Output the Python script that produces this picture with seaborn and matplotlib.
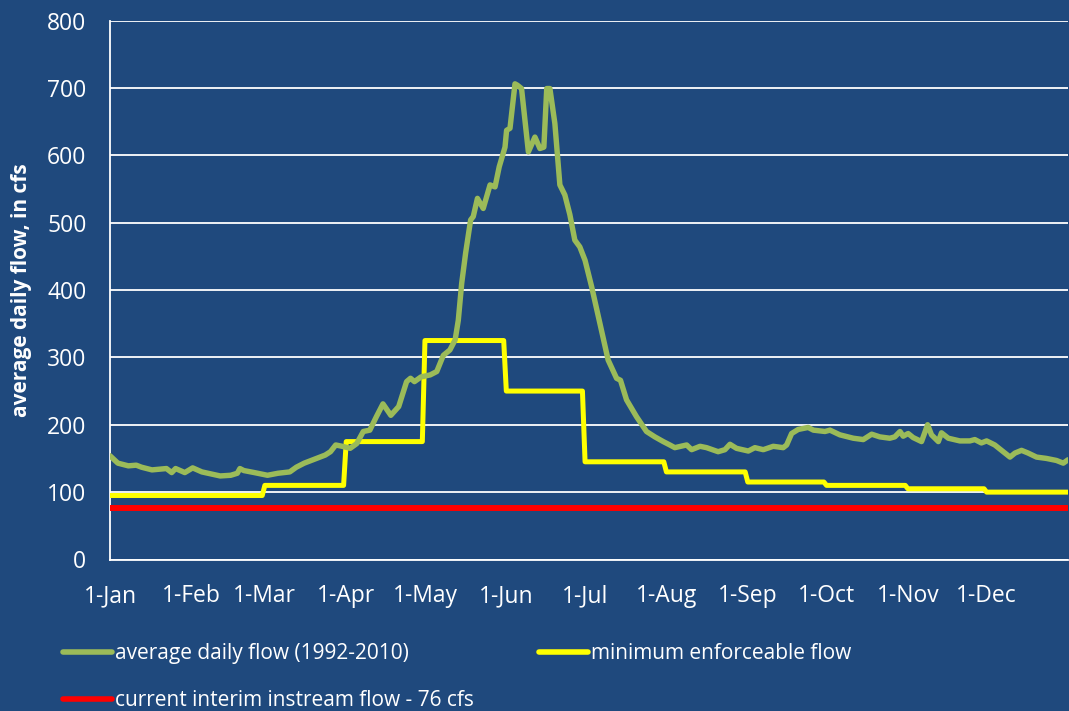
import numpy as np
import pandas as pd
import matplotlib
matplotlib.use("Agg")
import matplotlib.pyplot as plt
import seaborn as sns
from matplotlib.lines import Line2D

# ---- data (day of year starting at 0 = 1-Jan) ----
flow_days = [0, 3, 7, 10, 12, 16, 21.5, 23.5, 25, 28.5, 31.5, 35, 38.5, 42, 46, 48.5, 49.5, 51,
             55, 60, 64, 68.5, 71, 74, 78, 82, 84, 86, 88.5, 91.5, 94, 96.5, 99, 101.5, 104,
             107, 110, 113, 114.5, 116, 118.5, 122, 124.5, 127, 129.5, 131.5, 132.7, 134, 135.5,
             137.4, 138.4, 140, 142.2, 144.8, 146.7, 148.3, 150.5, 151.1, 152.4, 154.3, 155.2,
             156.8, 159.4, 161.9, 163.8, 165.3, 166.4, 167.6, 169.5, 171.4, 173.3, 175.2, 177.1,
             179, 181, 183.5, 186.7, 189.8, 193, 194.5, 196.8, 200.6, 204.4, 207.6, 210.8,
             213.3, 215.2, 219.7, 221.6, 224.8, 227.3, 231.7, 234.3, 236.2, 238.7, 243.2, 245.7,
             248.9, 252.7, 256.5, 257.8, 259.7, 262.2, 266, 268, 272.4, 274.3, 278.1, 283.2,
             287, 290.2, 293.3, 297.1, 299, 301, 302.2, 304.1, 306, 309.2, 311.5, 313, 315.6,
             316.8, 319.4, 323.8, 327.6, 329.5, 332, 334, 337.1, 339.7, 342.9, 344.8, 347.3,
             349.8, 353, 356.8, 360.6, 363.2, 365]
flow_values = [154, 143, 139, 140, 137, 133, 135, 129, 135, 129, 136, 130, 127, 124, 125, 128, 135, 132,
               129, 125, 128, 130, 137, 143, 149, 155, 160, 170, 168, 165, 172, 190, 192, 212, 231,
               214, 227, 264, 269, 264, 271, 274, 279, 303, 311, 326, 355, 410, 455,
               504, 509, 536, 521, 556, 553, 583, 612, 637, 640, 706, 704,
               699, 605, 627, 610, 612, 699, 699, 647, 556, 541, 512, 474,
               464, 444, 405, 350, 296, 269, 266, 237, 212, 190, 182, 175,
               170, 166, 170, 163, 168, 166, 160, 163, 171, 165, 161, 166,
               163, 168, 166, 170, 187, 193, 196, 192, 190, 192, 185, 180,
               178, 186, 182, 180, 182, 190, 183, 187, 181, 175, 200, 185, 175,
               188, 180, 176, 176, 178, 173, 176, 170, 162, 152, 158, 162,
               158, 152, 150, 147, 143, 148]

min_start_days = [0, 59, 90, 120, 151, 181, 212, 243, 273, 304, 334, 365]
min_values = [95, 110, 175, 325, 250, 145, 130, 115, 110, 105, 100]

interim_days = [0, 365]
interim_values = [76, 76]

month_ticks = [0, 31, 59, 90, 120, 151, 181, 212, 243, 273, 304, 334]
month_labels = ["1-Jan", "1-Feb", "1-Mar", "1-Apr", "1-May", "1-Jun", "1-Jul",
                "1-Aug", "1-Sep", "1-Oct", "1-Nov", "1-Dec"]
y_ticks = [0, 100, 200, 300, 400, 500, 600, 700, 800]

labels = ["average daily flow (1992-2010)", "minimum enforceable flow",
          "current interim instream flow - 76 cfs"]

# ---- build frames ----
df_flow = pd.DataFrame({"day": flow_days, "cfs": flow_values})
min_days = np.arange(0, 366)
lengths = np.diff(min_start_days)
min_daily = np.repeat(min_values, lengths)
min_daily = np.append(min_daily, min_values[-1])
df_min = pd.DataFrame({"day": min_days, "cfs": min_daily})
df_int = pd.DataFrame({"day": interim_days, "cfs": interim_values})

BG = "#1F497D"
GREEN = "#9BBB59"
YELLOW = "#FFFF00"
RED = "#FF0000"

sns.set_style("white", {"axes.facecolor": BG, "figure.facecolor": BG})
plt.rcParams["font.family"] = ["Open Sans", "DejaVu Sans"]

fig = plt.figure(figsize=(10.69, 7.11), dpi=100)
ax = fig.add_axes([110 / 1069, (711 - 559.5) / 711, 958 / 1069, 539 / 711])
ax.set_facecolor(BG)

sns.lineplot(data=df_int, x="day", y="cfs", ax=ax, color=RED, linewidth=4.3,
             estimator=None, zorder=3, solid_capstyle="butt")
sns.lineplot(data=df_min, x="day", y="cfs", ax=ax, color=YELLOW, linewidth=3.6,
             estimator=None, zorder=4)
sns.lineplot(data=df_flow, x="day", y="cfs", ax=ax, color=GREEN, linewidth=3.9,
             estimator=None, zorder=5)

ax.set_xlim(0, 365)
ax.set_ylim(0, 800)
ax.set_yticks(y_ticks)
ax.set_xticks(month_ticks)
ax.set_xticklabels(month_labels)
ax.yaxis.grid(True, color="white", linewidth=1.3)
ax.set_axisbelow(True)
for s in ["top", "right"]:
    ax.spines[s].set_visible(False)
for s in ["left", "bottom"]:
    ax.spines[s].set_color("white")
    ax.spines[s].set_linewidth(1.3)
ax.tick_params(axis="both", colors="white", labelcolor="white", labelsize=16.5,
               length=6, width=1.3, direction="out")
ax.tick_params(axis="x", pad=12)
ax.tick_params(axis="y", pad=11)
ax.set_xlabel("")
ax.set_ylabel("average daily flow, in cfs", color="white", fontsize=15,
              fontweight="bold")
ax.yaxis.set_label_coords(-(110 - 32) / 958, 0.5)

handles = [Line2D([], [], color=GREEN, linewidth=4, solid_capstyle="round"),
           Line2D([], [], color=RED, linewidth=4, solid_capstyle="round"),
           Line2D([], [], color=YELLOW, linewidth=4, solid_capstyle="round")]
hl = [labels[0], labels[2], labels[1]]
fig.legend(handles, hl, ncol=2, loc="upper left", bbox_to_anchor=(63 / 1069, 1 - 643 / 711),
           frameon=False, fontsize=15, labelcolor="white", handlelength=2.35,
           handletextpad=0.15, columnspacing=3.1, labelspacing=1.25,
           borderpad=0, borderaxespad=0)

fig.savefig("out.png", dpi=100, facecolor=BG)
